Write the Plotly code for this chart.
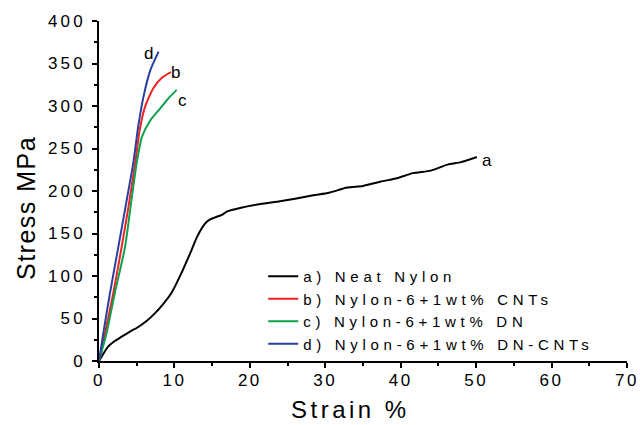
import plotly.graph_objects as go

# a) Neat Nylon
a_x = [0, 0.4, 1.2, 2.0, 3.0, 4.0, 5.2, 6.3, 7.4, 8.5, 9.6, 10.8, 12.1, 13.0, 14.0, 14.6, 15.4, 16.3, 17.0,
       18.7, 21.0, 24.0, 26.0, 28.4, 30.5, 32.9, 35.0, 37.3, 39.5, 41.6, 44.0, 46.2, 48.0, 50.1]
a_y = [0, 6, 17, 23, 28.6, 34, 40, 47, 56, 67, 80, 101, 127, 146, 161, 166, 169, 172, 176,
       180, 184, 188, 191, 195, 198, 204, 206, 211, 215, 221, 224, 231, 234, 240]
# b) Nylon-6+1wt% CNTs
b_x = [0, 0.8, 1.9, 3.0, 3.9, 4.8, 5.4, 6.1, 7.2, 8.3, 9.55]
b_y = [0, 32.6, 80, 134, 181, 233, 272, 299, 321, 333, 340]
# c) Nylon-6+1wt% DN
c_x = [0, 1.0, 2.1, 3.45, 4.3, 5.0, 5.7, 6.8, 8.1, 9.2, 10.3]
c_y = [0, 32.6, 80, 134, 189, 233, 264, 283, 297, 309, 319]
# d) Nylon-6+1wt% DN-CNTs
d_x = [0, 0.57, 1.46, 2.56, 3.67, 4.55, 5.2, 5.9, 6.8, 7.9]
d_y = [0, 32.6, 80, 134, 189, 233, 276, 311, 342, 364]

names = ["a) Neat Nylon", "b) Nylon-6+1wt% CNTs", "c) Nylon-6+1wt% DN", "d) Nylon-6+1wt% DN-CNTs"]
colors = ["#000000", "#ee2222", "#0aa24a", "#2a3f9e"]
end_labels = ["a", "b", "c", "d"]
end_label_x = [51.5, 10.2, 11.1, 6.5]
end_label_y = [236, 339, 307, 362]

x_ticks = [0, 10, 20, 30, 40, 50, 60, 70]
y_ticks = [0, 50, 100, 150, 200, 250, 300, 350, 400]

FONT = "Liberation Sans, Arial"
L, R, T, B = 99, 13, 21, 64
PW, PH = 640 - L - R, 425 - T - B


def sp(t, ls=2):
    return f'<span style="letter-spacing:{ls}px">{t}</span>'


fig = go.Figure()
series = [(a_x, a_y), (b_x, b_y), (c_x, c_y), (d_x, d_y)]
for (xs, ys), n, c in zip(series, names, colors):
    fig.add_trace(go.Scatter(x=xs, y=ys, mode="lines", name=sp(n, 4.7),
                             line=dict(color=c, width=2, shape="spline", smoothing=0.6)))

for lx, ly, t in zip(end_label_x, end_label_y, end_labels):
    fig.add_annotation(x=lx, y=ly, text=t, showarrow=False, xanchor="center", yanchor="middle",
                       font=dict(family=FONT, size=17, color="black"))

# axis titles
fig.add_annotation(xref="paper", yref="paper", x=(350 - L) / PW, y=((425 - B) - 409) / PH,
                   text=sp("Strain %", 3.5), showarrow=False, xanchor="center", yanchor="middle",
                   font=dict(family=FONT, size=24, color="black"))
fig.add_annotation(xref="paper", yref="paper", x=(26 - L) / PW, y=((425 - B) - 208) / PH,
                   text=sp("Stress MPa", 1.5), textangle=-90, showarrow=False,
                   xanchor="center", yanchor="middle",
                   font=dict(family=FONT, size=25, color="black"))

fig.update_layout(
    width=640, height=425,
    margin=dict(l=L, r=R, t=T, b=B, autoexpand=False),
    paper_bgcolor="white", plot_bgcolor="white",
    font=dict(family=FONT, color="black"),
    showlegend=True,
    legend=dict(x=0.311, y=0.15, xanchor="left", yanchor="middle", bgcolor="rgba(0,0,0,0)",
                font=dict(size=15, color="black"), tracegroupgap=0, itemwidth=30),
)
axis_common = dict(showline=True, linecolor="black", linewidth=1.5, ticks="outside", ticklen=5,
                   tickwidth=1.5, tickcolor="black", showgrid=False, zeroline=False, automargin=False,
                   tickfont=dict(size=17, family=FONT, color="black"), ticklabeloverflow="allow")
fig.update_xaxes(range=[0, 70], tickvals=x_ticks, ticktext=[sp(str(v), 2.5) for v in x_ticks],
                 ticklabelstandoff=-2,
                 minor=dict(dtick=5, ticks="outside", ticklen=3, tickwidth=1.5, tickcolor="black", showgrid=False),
                 **axis_common)
fig.update_yaxes(range=[0, 400], tickvals=y_ticks, ticktext=[sp(str(v), 3.2) for v in y_ticks],
                 ticklabelstandoff=3,
                 minor=dict(dtick=25, ticks="outside", ticklen=3, tickwidth=1.5, tickcolor="black", showgrid=False),
                 **axis_common)

fig.write_html("out.html")
